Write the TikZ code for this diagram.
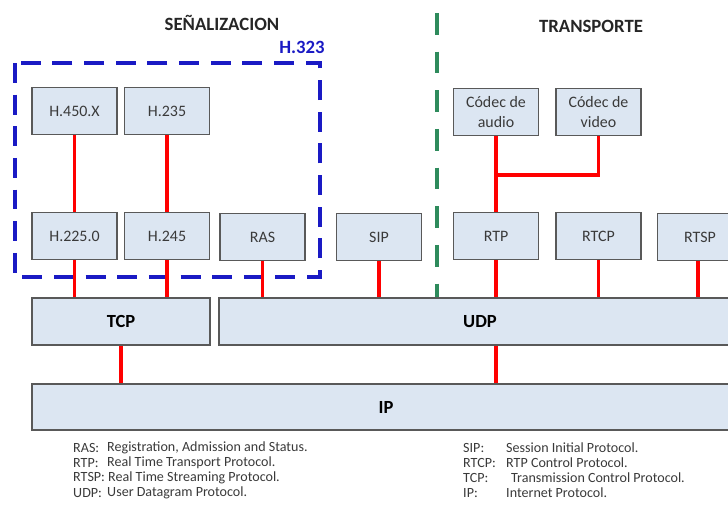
\documentclass[tikz,border=0pt]{standalone}
\usepackage{fontspec}
\setmainfont{Carlito}

\definecolor{boxfill}{HTML}{DCE6F2}
\definecolor{boxline}{HTML}{595959}
\definecolor{boxtext}{HTML}{3A3A3A}
\definecolor{linkred}{HTML}{FF0000}
\definecolor{hblue}{HTML}{1A1AC4}
\definecolor{sepgreen}{HTML}{2E8B5C}

\begin{document}
\begin{tikzpicture}[x=0.03cm, y=-0.03cm]
        \useasboundingbox (0,0) rectangle (728,504);
        \clip (0,0) rectangle (728,504);
        % titles
        \begin{scope}[every node/.style={font=\fontsize{16}{18}\selectfont\bfseries, text=black!85}]
            \node (sen) at (222,23) {SEÑALIZACION};
            \node (tra) at (591,26) {TRANSPORTE};
            \node[text=hblue] (h323) at (302,47) {H.323};
        \end{scope}
        % H.323 frame and separator
        \draw[hblue, line width=3pt, dash pattern=on 17pt off 10pt] (15,63) rectangle (320,277);
        \draw[sepgreen, line width=3.4pt, dash pattern=on 18.5pt off 14.5pt] (437,13) -- (437,300);
        % protocol boxes
        \begin{scope}[every node/.style={draw=boxline, fill=boxfill, line width=1pt, text=boxtext, minimum width=2.55cm, minimum height=1.41cm, inner sep=0, align=center, font=\fontsize{13.6}{16.5}\selectfont}]
            \node (h450) at (74.5,111) {H.450.X};
            \node (h235) at (167,111) {H.235};
            \node (h2250) at (74.5,236) {H.225.0};
            \node (h245) at (167,236) {H.245};
            \node (ras) at (262.5,237) {RAS};
            \node (sip) at (379,237) {SIP};
            \node (rtp) at (496,236) {RTP};
            \node (rtcp) at (598.5,236) {RTCP};
            \node (rtsp) at (700,237) {RTSP};
            \node (audio) at (496,112) {Códec de\\audio};
            \node (video) at (598.5,112) {Códec de\\video};
        \end{scope}
        \begin{scope}[every node/.style={draw=boxline, fill=boxfill, line width=1pt, text=black, minimum height=1.41cm, inner sep=0, font=\fontsize{15.8}{18}\selectfont\bfseries}]
            \node[minimum width=5.34cm] (tcp) at (121,321.5) {TCP};
            \node[minimum width=15.66cm] (udp) at (480,321.5) {UDP};
            \node[minimum width=21.24cm, minimum height=1.38cm] (ip) at (386,407) {IP};
        \end{scope}
        % links
        \coordinate (join) at (496,175);
        \begin{scope}[every path/.style={linkred, line width=2.8pt}]
            \draw (h450) -- (h2250);
            \draw (h235) -- (h245);
            \draw (h2250) -- (h2250 |- tcp.north);
            \draw (h245) -- (h245 |- tcp.north);
            \draw (ras) -- (ras |- udp.north);
            \draw (sip) -- (sip |- udp.north);
            \draw (rtp) -- (rtp |- udp.north);
            \draw (rtcp) -- (rtcp |- udp.north);
            \draw (rtsp.south -| 698,0) -- (698,0 |- udp.north);
            \draw (audio) -- (rtp);
            \draw (video) |- (join);
            \draw (tcp) -- (tcp |- ip.north);
            \draw (rtp |- udp.south) -- (rtp |- ip.north);
        \end{scope}
        % legend
        \begin{scope}[every node/.style={anchor=west, inner sep=0, text=boxtext, font=\fontsize{12}{14}\selectfont}]
            \node (kras) at (73,448) {RAS:};
            \node (kras2) at (107,448) {Registration, Admission and Status.};
            \node (krtp) at (73,463) {RTP:};
            \node (krtp2) at (107,463) {Real Time Transport Protocol.};
            \node (krtsp) at (73,478) {RTSP: Real Time Streaming Protocol.};
            \node (kudp) at (73,493) {UDP:};
            \node (kudp2) at (107,493) {User Datagram Protocol.};
            \node (ksip) at (463,448) {SIP:};
            \node (ksip2) at (506,448) {Session Initial Protocol.};
            \node (krtcp) at (463,463) {RTCP:};
            \node (krtcp2) at (506,463) {RTP Control Protocol.};
            \node (ktcp) at (463,478) {TCP:};
            \node (ktcp2) at (511,478) {Transmission Control Protocol.};
            \node (kip) at (463,493) {IP:};
            \node (kip2) at (506,493) {Internet Protocol.};
        \end{scope}
    \end{tikzpicture}
\end{document}
